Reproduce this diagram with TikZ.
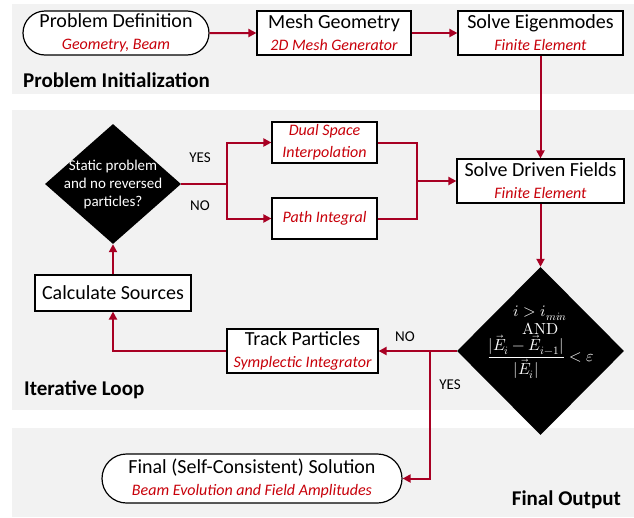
\documentclass[tikz,border=0pt]{standalone}
\usepackage{amsmath}
\usepackage{unicode-math}
\setmainfont{Carlito}
\setmathfont{Latin Modern Math}
\usetikzlibrary{positioning, arrows.meta, shapes.geometric, shapes.misc}
\definecolor{FlowRed}{RGB}{168,0,35}
\definecolor{NoteRed}{RGB}{200,0,10}
\definecolor{PanelGray}{RGB}{242,242,242}
\newcommand{\detail}[1]{{\color{NoteRed}\itshape\fontsize{16}{19}\selectfont #1}}

\begin{document}
\begin{tikzpicture}[x=1pt,y=-1pt,
    stepbox/.style={draw=black, line width=1.2pt, fill=white, align=center, inner sep=0pt,
      font=\fontsize{20}{22}\selectfont},
    terminal/.style={stepbox, rounded rectangle},
    decision/.style={diamond, fill=black, inner sep=0pt},
    decisiontext/.style={text=white, align=center, inner sep=0pt},
    panel/.style={font=\bfseries\fontsize{21}{24}\selectfont, inner sep=0pt},
    answer/.style={font=\fontsize{15}{18}\selectfont, inner sep=0pt},
    link/.style={draw=FlowRed, line width=2pt},
    flow/.style={link, -{Triangle[length=8pt,width=8pt]}}]
  \useasboundingbox (0,0) rectangle (634,517);

  % grey panels
  \fill[PanelGray] (12,4) rectangle (634,94);
  \fill[PanelGray] (12,110) rectangle (634,410);
  \fill[PanelGray] (12,428) rectangle (634,517);

  \node[panel, anchor=west] (initlabel) at (23,80) {Problem Initialization};
  \node[panel, anchor=west] (looplabel) at (24,390) {Iterative Loop};
  \node[panel, anchor=east] (outlabel) at (621,500) {Final Output};

  % problem initialization
  \node[terminal, minimum width=186pt, minimum height=44pt] (problem) at (116,33)
    {Problem Definition\\\detail{Geometry, Beam}};
  \node[stepbox, minimum width=154pt, minimum height=44pt] (mesh) at (334,33)
    {Mesh Geometry\\\detail{2D Mesh Generator}};
  \node[stepbox, minimum width=165pt, minimum height=44pt] (eigen) at (540.5,33)
    {Solve Eigenmodes\\\detail{Finite Element}};

  % iterative loop
  \node[stepbox, minimum width=167pt, minimum height=44pt] (driven) at (540.5,181)
    {Solve Driven Fields\\\detail{Finite Element}};
  \node[stepbox, minimum width=105pt, minimum height=41pt] (dual) at (324.5,142.5)
    {\detail{Dual Space}\\\detail{Interpolation}};
  \node[stepbox, minimum width=105pt, minimum height=41pt] (pathint) at (324.5,218.5)
    {\detail{Path Integral}};
  \node[decision, minimum width=136pt, minimum height=120pt] (static) at (113,184) {};
  \node[decisiontext, font=\fontsize{15}{18}\selectfont] (statictext) at (static)
    {Static problem\\and no reversed\\particles?};
  \node[stepbox, minimum width=156pt, minimum height=36pt] (sources) at (113,293)
    {Calculate Sources};
  \node[stepbox, minimum width=151pt, minimum height=44pt] (track) at (302.5,351)
    {Track Particles\\\detail{Symplectic Integrator}};
  \node[decision, minimum width=167pt, minimum height=168pt] (converged) at (540.5,351) {};
  \node[decisiontext, font=\fontsize{16}{19}\selectfont] (convtext) at (540.5,342)
    {$i > i_{min}$\\[-1pt]$\symup{AND}$\\[0pt]$\dfrac{|\vec{E}_i - \vec{E}_{i-1}|}{|\vec{E}_i|} < \varepsilon$};

  % final output
  \node[terminal, minimum width=300pt, minimum height=49pt] (final) at (252,478.5)
    {Final (Self-Consistent) Solution\\\detail{Beam Evolution and Field Amplitudes}};

  \coordinate (split) at (227,184);
  \coordinate (merge) at (417,181);
  \coordinate (exit) at (430,351);

  \draw[flow] (problem) -- (mesh);
  \draw[flow] (mesh) -- (eigen);
  \draw[flow] (eigen) -- (driven);
  \draw[link] (static.east) -- (split);
  \draw[flow] (split) |- (dual);
  \draw[flow] (split) |- (pathint);
  \draw[link] (dual) -| (merge);
  \draw[link] (pathint) -| (merge);
  \draw[flow] (merge) -- (driven);
  \draw[flow] (driven) -- (converged);
  \draw[flow] (converged.west) -- (track);
  \draw[flow] (exit) |- (final);
  \draw[flow] (track) -| (sources);
  \draw[flow] (sources) -- (static);

  \node[answer] (yesup) at (200,158) {YES};
  \node[answer] (noup) at (200,206) {NO};
  \node[answer] (nodown) at (405,337) {NO};
  \node[answer] (yesdown) at (450,385) {YES};
\end{tikzpicture}
\end{document}
